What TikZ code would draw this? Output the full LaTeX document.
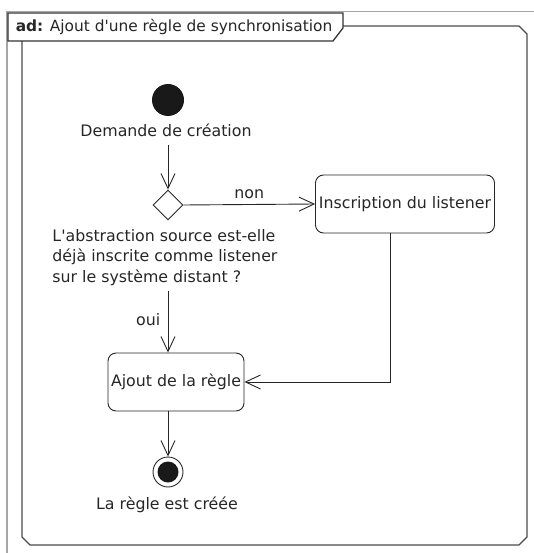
\documentclass[tikz,border=0pt]{standalone}
\usepackage{fontspec}
\setmainfont{DejaVu Sans}
\usetikzlibrary{arrows.meta,positioning,shapes.geometric}

\begin{document}
\begin{tikzpicture}[x=1pt, y=-1pt, line width=0.9pt,
    every node/.style={font=\fontsize{15.8}{20.5}\selectfont, text=black!85},
    flow/.style={-{Straight Barb[length=15pt,width=14pt]}, black!85},
    action/.style={draw=black!85, rounded corners=8pt, minimum height=58pt, inner sep=1pt},
    decision/.style={diamond, draw=black!85, fill=white, minimum width=30pt, minimum height=30pt, inner sep=0pt},
    start/.style={circle, fill=black!90, minimum size=32pt, inner sep=0pt},
    stop/.style={circle, draw=black!85, minimum size=30pt, inner sep=0pt,
      path picture={\fill[black!90] (path picture bounding box.center) circle (10.5pt);}}]
  \useasboundingbox (0,0) rectangle (534,553);
  % window edge
  \draw[black!35, line width=1.5pt] (534,11.5) -- (7,11.5) -- (7,553);
  % frame
  \draw[black!70, line width=1.3pt] (343,26) -- (519,26) -- (527,34) -- (527,537) -- (519,545) -- (30,545) -- (22,537) -- (22,41);
  \draw[black!80, line width=1.3pt, fill=white] (8,13) -- (343,13) -- (343,28) -- (333,41) -- (8,41) -- cycle;
  \node[anchor=west, font=\fontsize{15.4}{18}\selectfont] (title) at (12,27) {\textbf{ad:} Ajout d\textquotesingle une règle de synchronisation};
  % initial node
  \node[start] (init) at (168,100) {};
  \node (initlbl) at (166,130) {Demande de création};
  % decision
  \node[decision] (dec) at (168,205) {};
  \node[anchor=north west, align=left, inner sep=0pt] (declbl) at (52,229)
    {L\textquotesingle abstraction source est-elle\\déjà inscrite comme listener\\sur le système distant ?};
  % actions
  \node[action, minimum width=179pt] (inscr) at (405,204) {Inscription du listener};
  \node[action, minimum width=136pt] (ajout) at (176,382) {Ajout de la règle};
  % final node
  \node[stop] (final) at (168,472) {};
  \node (finallbl) at (167,505) {La règle est créée};
  % transitions
  \draw[flow, shorten <=5pt] (dec |- initlbl.south) -- (dec.north);
  \draw[flow] (dec.east) -- node[above=2pt] (non) {non} (inscr.west);
  \draw[flow, shorten <=5pt] (dec |- declbl.south) -- node[left=4pt] (oui) {oui} (dec |- ajout.north);
  \draw[flow] ([xshift=-15pt]inscr.south) |- (ajout.east);
  \draw[flow] (final |- ajout.south) -- (final.north);
\end{tikzpicture}
\end{document}
